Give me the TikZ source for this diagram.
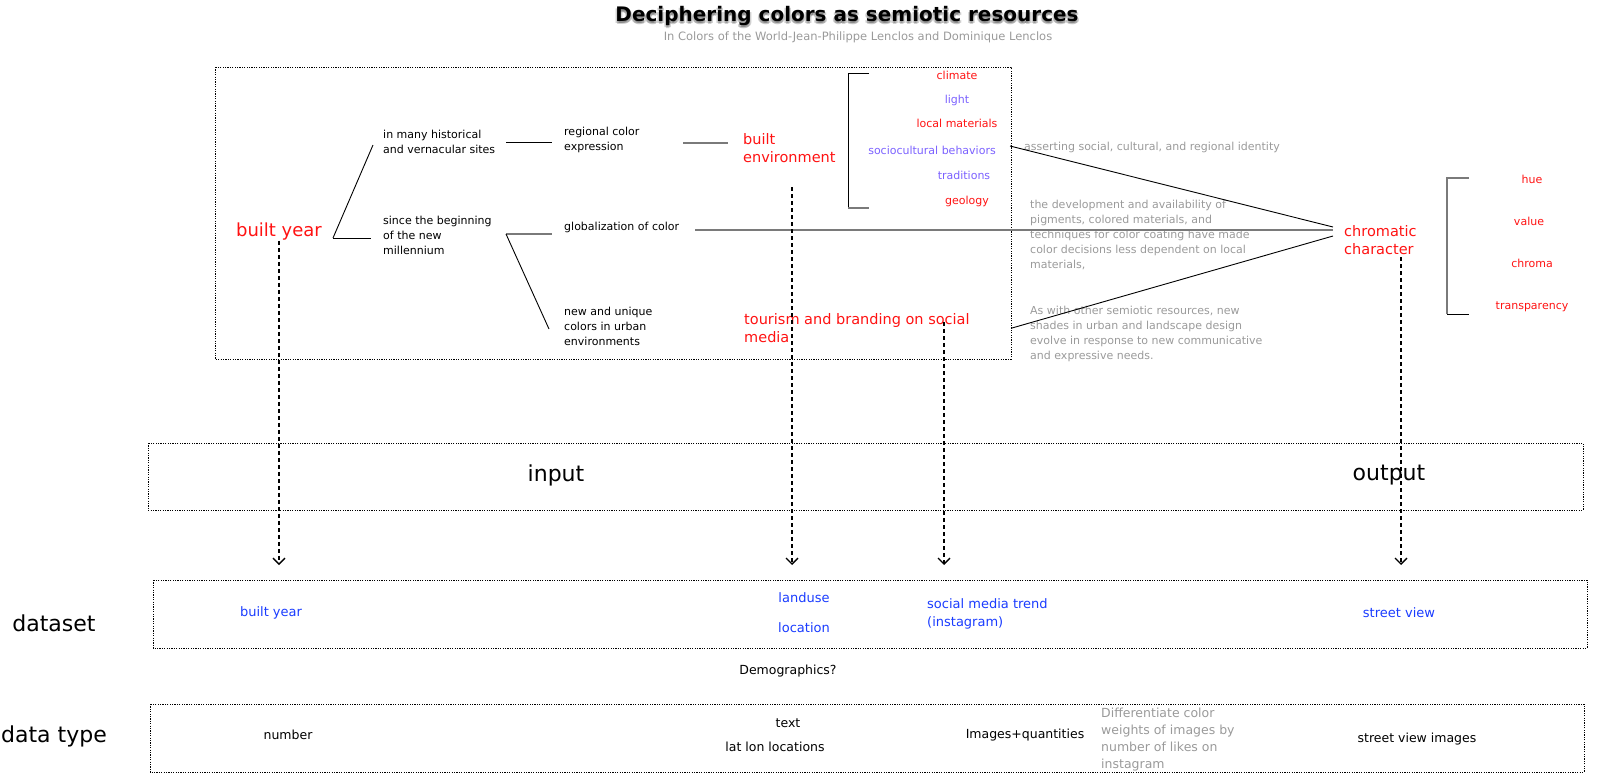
\documentclass[tikz,border=0pt]{standalone}
\usepackage{fontspec}
\setmainfont{DejaVu Sans}
\usetikzlibrary{arrows.meta, calc, positioning}
\definecolor{semRed}{HTML}{FF1212}
\definecolor{semPurple}{HTML}{7B61FF}
\definecolor{semBlue}{HTML}{1A3CFF}
\definecolor{semGray}{HTML}{9A9A9A}
\definecolor{lineGray}{HTML}{7A7A7A}
\tikzset{
    txtSmall/.style={anchor=west, inner sep=0pt, align=left, font=\fontsize{11}{15}\selectfont},
    txtGray/.style={txtSmall, text=semGray},
    txtRed/.style={anchor=west, inner sep=0pt, align=left, text=semRed, font=\fontsize{14.5}{18}\selectfont},
    factorRed/.style={inner sep=0pt, text=semRed, font=\fontsize{11}{13}\selectfont},
    factorPurple/.style={factorRed, text=semPurple},
    txtBlue/.style={inner sep=0pt, text=semBlue, font=\fontsize{13}{18}\selectfont},
    txtData/.style={inner sep=0pt, font=\fontsize{12.5}{16}\selectfont},
    rowLabel/.style={inner sep=0pt, font=\fontsize{22}{26}\selectfont},
    titleText/.style={inner sep=0pt, font=\fontsize{20}{24}\selectfont\bfseries},
    dotBox/.style={draw, dash pattern=on 1.2pt off 1.2pt, line width=0.8pt},
    branchLine/.style={line width=0.9pt},
    grayLine/.style={line width=1.3pt, draw=lineGray},
    dropArrow/.style={-{Straight Barb[length=6pt, width=12pt, line width=1.3pt]}, line width=1.8pt, dash pattern=on 4pt off 3pt},
}
\newcommand{\joinLine}[3][branchLine]{
    \draw[#1] (#2) -- (#3);
}
\newcommand{\dropLink}[2]{
    \draw[dropArrow] (#1) -- (#2);
}

\begin{document}
\begin{tikzpicture}[x=1pt, y=-1pt]
    \useasboundingbox (0,0) rectangle (1603,774);

    % title
    \foreach \i/\dx/\dy in {1/0/3, 2/1.5/2.5, 3/-1.5/2.5}
        \node[titleText, text=black, opacity=0.18] (titleShadow\i) at (847+\dx,16+\dy) {Deciphering colors as semiotic resources};
    \node[titleText] (title) at (847,16) {Deciphering colors as semiotic resources};
    \node[inner sep=0pt, text=semGray, font=\fontsize{11.5}{13}\selectfont] (subtitle) at (858,37) {In Colors of the World-Jean-Philippe Lenclos and Dominique Lenclos};

    % frames
    \draw[dotBox] (215,67) rectangle (1011,359);
    \draw[dotBox] (148,443) rectangle (1583,510);
    \draw[dotBox] (153,580) rectangle (1587,648);
    \draw[dotBox] (150,704) rectangle (1584,772);

    % upper tree
    \node[txtRed, anchor=center, font=\fontsize{18}{22}\selectfont] (builtyear) at (279,232) {built year};
    \node[txtSmall] (hist) at (383,142) {in many historical\\and vernacular sites};
    \node[txtSmall] (since) at (383,235) {since the beginning\\of the new\\millennium};
    \node[txtSmall] (regional) at (564,139.5) {regional color\\expression};
    \node[txtSmall] (glob) at (564,227) {globalization of color};
    \node[txtSmall] (newuniq) at (564,326) {new and unique\\colors in urban\\environments};
    \node[txtRed] (builtenv) at (743,148) {built\\environment};
    \node[txtRed] (tourism) at (744,328.5) {tourism and branding on social\\media};
    \node[txtRed] (chrom) at (1344,240) {chromatic\\character};

    \node[factorRed] (climate) at (957,75) {climate};
    \node[factorPurple] (light) at (957,100) {light};
    \node[factorRed] (localmat) at (957,123) {local materials};
    \node[factorPurple] (socio) at (932,150) {sociocultural behaviors};
    \node[factorPurple] (trad) at (964,175) {traditions};
    \node[factorRed] (geology) at (967,201) {geology};

    \node[factorRed] (hue) at (1532,179) {hue};
    \node[factorRed] (value) at (1529,221) {value};
    \node[factorRed] (chroma) at (1532,263) {chroma};
    \node[factorRed] (transp) at (1532,307) {transparency};

    \node[txtGray] (assert) at (1024,147) {asserting social, cultural, and regional identity};
    \node[txtGray] (devel) at (1030,235) {the development and availability of\\pigments, colored materials, and\\techniques for color coating have made\\color decisions less dependent on local\\materials,};
    \node[txtGray] (semio) at (1030,333.5) {As with other semiotic resources, new\\shades in urban and landscape design\\evolve in response to new communicative\\and expressive needs.};

    \coordinate (byFork) at (333,238);
    \coordinate (histIn) at (373,145);
    \coordinate (sinceIn) at (371,238);
    \coordinate (histOut) at (506,142);
    \coordinate (regionalIn) at (552,142);
    \coordinate (sinceOut) at (506,234);
    \coordinate (globIn) at (552,234);
    \coordinate (newIn) at (549,329);
    \coordinate (regionalOut) at (683,143);
    \coordinate (envIn) at (728,143);
    \coordinate (globOut) at (695,230);
    \coordinate (socioOut) at (1010,146);
    \coordinate (tourOut) at (1012,328);
    \coordinate (chromInTop) at (1333,227);
    \coordinate (chromInMid) at (1333,230);
    \coordinate (chromInLow) at (1333,236);

    \joinLine{byFork}{histIn}
    \joinLine{byFork}{sinceIn}
    \joinLine{histOut}{regionalIn}
    \joinLine[grayLine]{sinceOut}{globIn}
    \joinLine{sinceOut}{newIn}
    \joinLine[grayLine]{regionalOut}{envIn}
    \joinLine[grayLine]{globOut}{chromInMid}
    \joinLine{socioOut}{chromInTop}
    \joinLine{tourOut}{chromInLow}

    % brackets
    \draw[branchLine] (869,73) -- (848,73) -- (848,208);
    \draw[grayLine] (848,208) -- (869,208);
    \draw[grayLine] (1469,178) -- (1447,178) -- (1447,314);
    \draw[branchLine] (1447,314) -- (1469,314);

    % input / output
    \node[rowLabel] (inputLbl) at (556,475) {input};
    \node[rowLabel] (outputLbl) at (1389,475) {output};

    \coordinate (envTop) at (792,187);
    \coordinate (tourTop) at (944,322);
    \coordinate (chromTop) at (1401,257);
    \coordinate (byEnd) at (279,565);
    \coordinate (envEnd) at (792,565);
    \coordinate (tourEnd) at (944,565);
    \coordinate (chromEnd) at (1401,565);

    \dropLink{builtyear.south}{byEnd}
    \dropLink{envTop}{envEnd}
    \dropLink{tourTop}{tourEnd}
    \dropLink{chromTop}{chromEnd}

    % dataset row
    \node[rowLabel] (datasetLbl) at (54,623) {dataset};
    \node[txtBlue] (dsYear) at (271,613) {built year};
    \node[txtBlue] (dsLanduse) at (804,598) {landuse};
    \node[txtBlue] (dsLocation) at (804,628) {location};
    \node[txtBlue, anchor=west, align=left] (dsSocial) at (927,614) {social media trend\\(instagram)};
    \node[txtBlue] (dsStreet) at (1399,613) {street view};
    \node[txtData] (demog) at (788,671) {Demographics?};

    % data type row
    \node[rowLabel] (datatypeLbl) at (54,736) {data type};
    \node[txtData] (dtNumber) at (288,735) {number};
    \node[txtData] (dtText) at (788,723) {text};
    \node[txtData] (dtLatlon) at (775,747) {lat lon locations};
    \node[txtData] (dtImages) at (1025,735) {Images+quantities};
    \node[txtGray, font=\fontsize{12.5}{17}\selectfont] (dtDiff) at (1101,739.5) {Differentiate color\\weights of images by\\number of likes on\\instagram};
    \node[txtData] (dtStreet) at (1417,739) {street view images};

\end{tikzpicture}
\end{document}
